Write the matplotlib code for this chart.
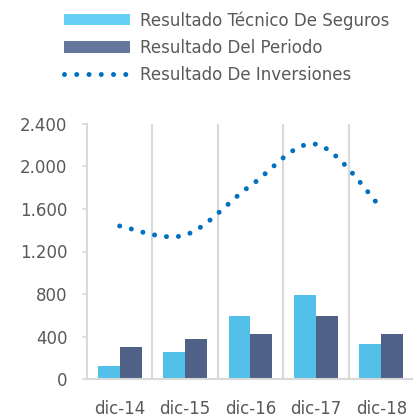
import numpy as np
import matplotlib
matplotlib.use("Agg")
import matplotlib.pyplot as plt
from matplotlib.patches import Patch
from matplotlib.lines import Line2D

categories = ["dic-14", "dic-15", "dic-16", "dic-17", "dic-18"]
tecnico = [120, 250, 590, 790, 330]
periodo = [305, 380, 420, 590, 420]
inversiones = [1440, 1355, 1820, 2210, 1610]
yticks = [0, 400, 800, 1200, 1600, 2000, 2400]
ytick_labels = ["0", "400", "800", "1.200", "1.600", "2.000", "2.400"]

C_LIGHT = "#52C0E8"
C_DARK = "#506188"
C_LINE = "#0070C0"
C_TEXT = "#595959"
C_GRID = "#D9D9D9"

plt.rcParams["font.family"] = ["DejaVu Sans"]

fig = plt.figure(figsize=(4.14, 4.17), dpi=100)
ax = fig.add_axes([87 / 414, 38 / 417, 1 - 87 / 414, 255 / 417])

x = np.arange(len(categories))
w = 0.335
ax.bar(x - w / 2, tecnico, width=w, color=C_LIGHT, zorder=2)
ax.bar(x + w / 2, periodo, width=w, color=C_DARK, zorder=2)

# smoothed line (Excel-like Bezier smoothing through data points)
px = x.astype(float)
py = np.array(inversiones, dtype=float)
n = len(px)
sx, sy = [], []
t = np.linspace(0, 1, 60)
for i in range(n - 1):
    p0 = np.array([px[i], py[i]])
    p3 = np.array([px[i + 1], py[i + 1]])
    pm = np.array([px[max(i - 1, 0)], py[max(i - 1, 0)]])
    pp = np.array([px[min(i + 2, n - 1)], py[min(i + 2, n - 1)]])
    p1 = p0 + (p3 - pm) / 6
    p2 = p3 - (pp - p0) / 6
    b = ((1 - t) ** 3)[:, None] * p0 + (3 * (1 - t) ** 2 * t)[:, None] * p1 \
        + (3 * (1 - t) * t ** 2)[:, None] * p2 + (t ** 3)[:, None] * p3
    if i > 0:
        b = b[1:]
    sx.extend(b[:, 0])
    sy.extend(b[:, 1])
ax.plot(sx, sy, color=C_LINE, linewidth=3.6, linestyle=(0, (0.001, 2.4)),
        dash_capstyle="round", zorder=3)

ax.set_xlim(-0.5, len(categories) - 0.5)
ax.set_ylim(0, 2400)
ax.set_yticks(yticks)
ax.set_yticklabels(ytick_labels)
ax.set_xticks(x)
ax.set_xticklabels(categories)
ax.set_xticks(np.arange(0.5, len(categories) - 0.5, 1), minor=True)
ax.grid(which="minor", axis="x", color=C_GRID, linewidth=1.5, zorder=0)
ax.tick_params(axis="x", which="both", length=0, pad=15, labelsize=12, labelcolor=C_TEXT)
ax.tick_params(axis="y", length=3.6, width=1.2, color=C_GRID, pad=10.5,
               labelsize=12, labelcolor=C_TEXT)
for s in ["top", "right"]:
    ax.spines[s].set_visible(False)
for s in ["left", "bottom"]:
    ax.spines[s].set_color(C_GRID)
    ax.spines[s].set_linewidth(1.5)

handles = [
    Patch(facecolor="#66CFF4", edgecolor="none"),
    Patch(facecolor="#66779E", edgecolor="none"),
    Line2D([0], [0], color=C_LINE, linewidth=3.6, linestyle=(0, (0.001, 2.45)),
           dash_capstyle="round"),
]
labels = ["Resultado Técnico De Seguros", "Resultado Del Periodo",
          "Resultado De Inversiones"]
leg = fig.legend(handles, labels, loc="upper left",
                 bbox_to_anchor=(64 / 414, 1 - 11 / 417),
                 frameon=False, fontsize=12, handlelength=3.96,
                 handleheight=0.66, handletextpad=0.6, labelspacing=0.56,
                 borderpad=0, borderaxespad=0, labelcolor=C_TEXT)

fig.savefig("out.png", dpi=100)
